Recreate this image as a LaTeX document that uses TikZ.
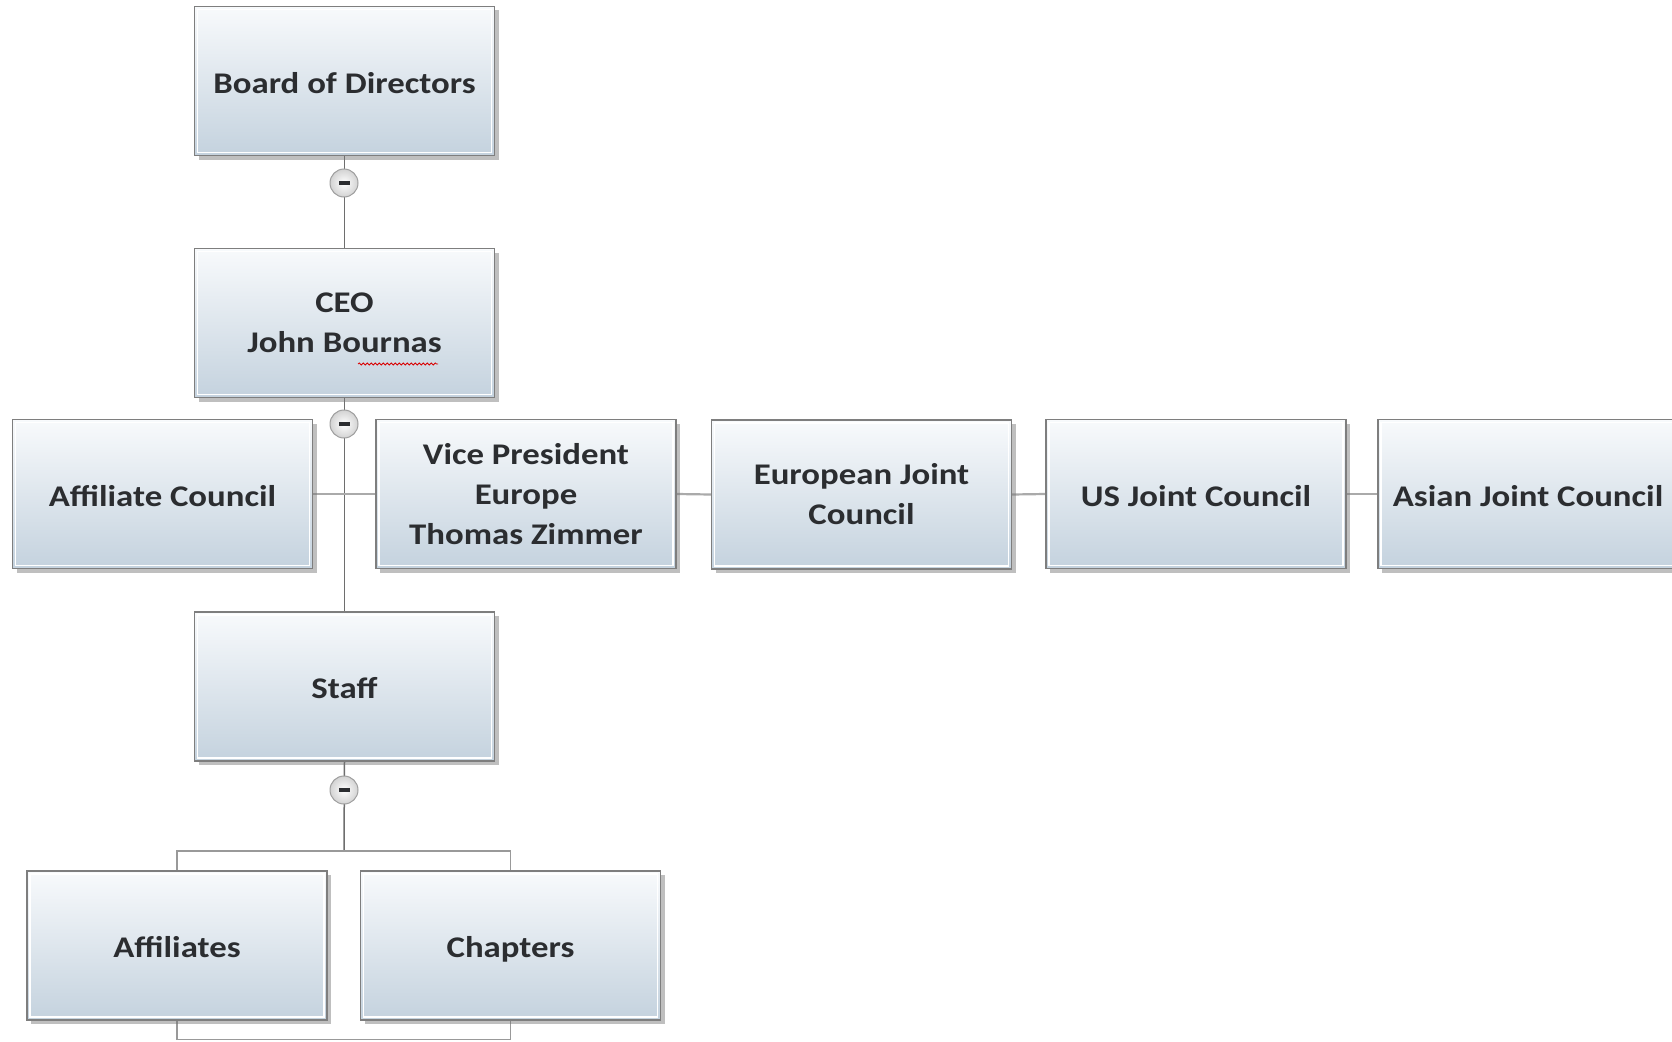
\documentclass[tikz,border=0pt]{standalone}
\usepackage{fontspec}
\setmainfont{Carlito}[FakeStretch=1.16]
\usetikzlibrary{shadows,decorations.pathmorphing,backgrounds}
\definecolor{boxtop}{HTML}{F8FAFC}
\definecolor{boxbot}{HTML}{C4D2DE}
\definecolor{boxborder}{HTML}{7E7E7E}
\definecolor{textc}{HTML}{2B2D30}
\definecolor{trunkc}{HTML}{6E6E6E}
\definecolor{hlinec}{HTML}{AAAAAA}
\newcommand\orgfont{\fontsize{30}{40}\selectfont\bfseries}
\newcommand\orgbstrut{\rule[-6pt]{0pt}{36pt}}
\newcommand\orgestrut{\rule[-6pt]{0pt}{36pt}}
\tikzset{
  orgbox/.style={draw=boxborder, line width=1.3pt, top color=boxtop, bottom color=boxbot,
    minimum width=300pt, minimum height=149pt, inner sep=0pt, font=\orgfont, text=textc,
    align=center, execute at begin node=\orgbstrut, execute at end node=\orgestrut,
    path picture={\draw[white, line width=1.4pt]
      ([shift={(3pt,-3pt)}]path picture bounding box.north west) rectangle
      ([shift={(-3pt,3pt)}]path picture bounding box.south east);},
    drop shadow={shadow xshift=4pt, shadow yshift=-4pt, opacity=0.45, fill=black!55}},
  multiline/.code={\def\orgbstrut{\rule{0pt}{39pt}}\def\orgestrut{\relax}},
  minusbtn/.style={circle, minimum size=28pt, inner sep=0pt, draw=gray!75, line width=1pt,
    inner color=white, outer color=gray!35,
    path picture={\fill[textc] ([xshift=-5.5pt,yshift=-2.4pt]path picture bounding box.center)
      rectangle ([xshift=5.5pt,yshift=2.4pt]path picture bounding box.center);}},
  trunk/.style={draw=trunkc, line width=1.5pt},
  hline/.style={draw=hlinec, line width=2.2pt},
  bline/.style={draw=hlinec!90!black, line width=1.6pt}
}
\begin{document}
\begin{tikzpicture}[x=1pt,y=-1pt]
\useasboundingbox (0,0) rectangle (1672,1041);
\clip (0,0) rectangle (1672,1041);
\coordinate (c1pos) at (344,183);
\coordinate (c2pos) at (344,424);
\coordinate (c3pos) at (344,790);
\coordinate (br) at (344,851);
\coordinate (bb) at (344,1039.5);
% boxes
\node[orgbox] (board) at (344.5,81) {Board of Directors};
\node[orgbox, multiline] (ceo) at (344.5,323) {CEO\\John Bournas};
\node[orgbox] (affc) at (162.5,494) {Affiliate Council};
\node[orgbox, multiline] (vp) at (526,494) {Vice President\\Europe\\Thomas Zimmer};
\node[orgbox, multiline] (euro) at (861.5,494.5) {European Joint\\Council};
\node[orgbox] (us) at (1196,494) {US Joint Council};
\node[orgbox] (asia) at (1528,494) {Asian Joint Council};
\node[orgbox] (staff) at (344.5,686.5) {Staff};
\node[orgbox] (affs) at (177,945.5) {Affiliates};
\node[orgbox] (chap) at (510.5,945.5) {Chapters};
% connectors behind the boxes
\begin{scope}[on background layer]
\fill[white] (0,0) rectangle (1672,1041);
\draw[trunk] (board.south) -- (ceo.north);
\draw[trunk] (ceo.south) -- (staff.north);
\draw[hline] (affc.east) -- (vp.west);
\draw[hline] (vp.east) -- (euro.west);
\draw[hline] (euro.east) -- (us.west);
\draw[hline] (us.east) -- (asia.west);
\draw[trunk] (staff.south) -- (br);
\draw[bline] (affs.north) |- (br) -| (chap.north);
\draw[bline] (affs.south) |- (bb) -| (chap.south);
\end{scope}
% collapse buttons
\node[minusbtn] (c1) at (c1pos) {};
\node[minusbtn] (c2) at (c2pos) {};
\node[minusbtn] (c3) at (c3pos) {};
% spell-check squiggle
\draw[red!85!black, line width=0.8pt, decorate, decoration={snake, amplitude=1pt, segment length=4pt}]
  (358,364) -- (438,364);
\end{tikzpicture}
\end{document}
